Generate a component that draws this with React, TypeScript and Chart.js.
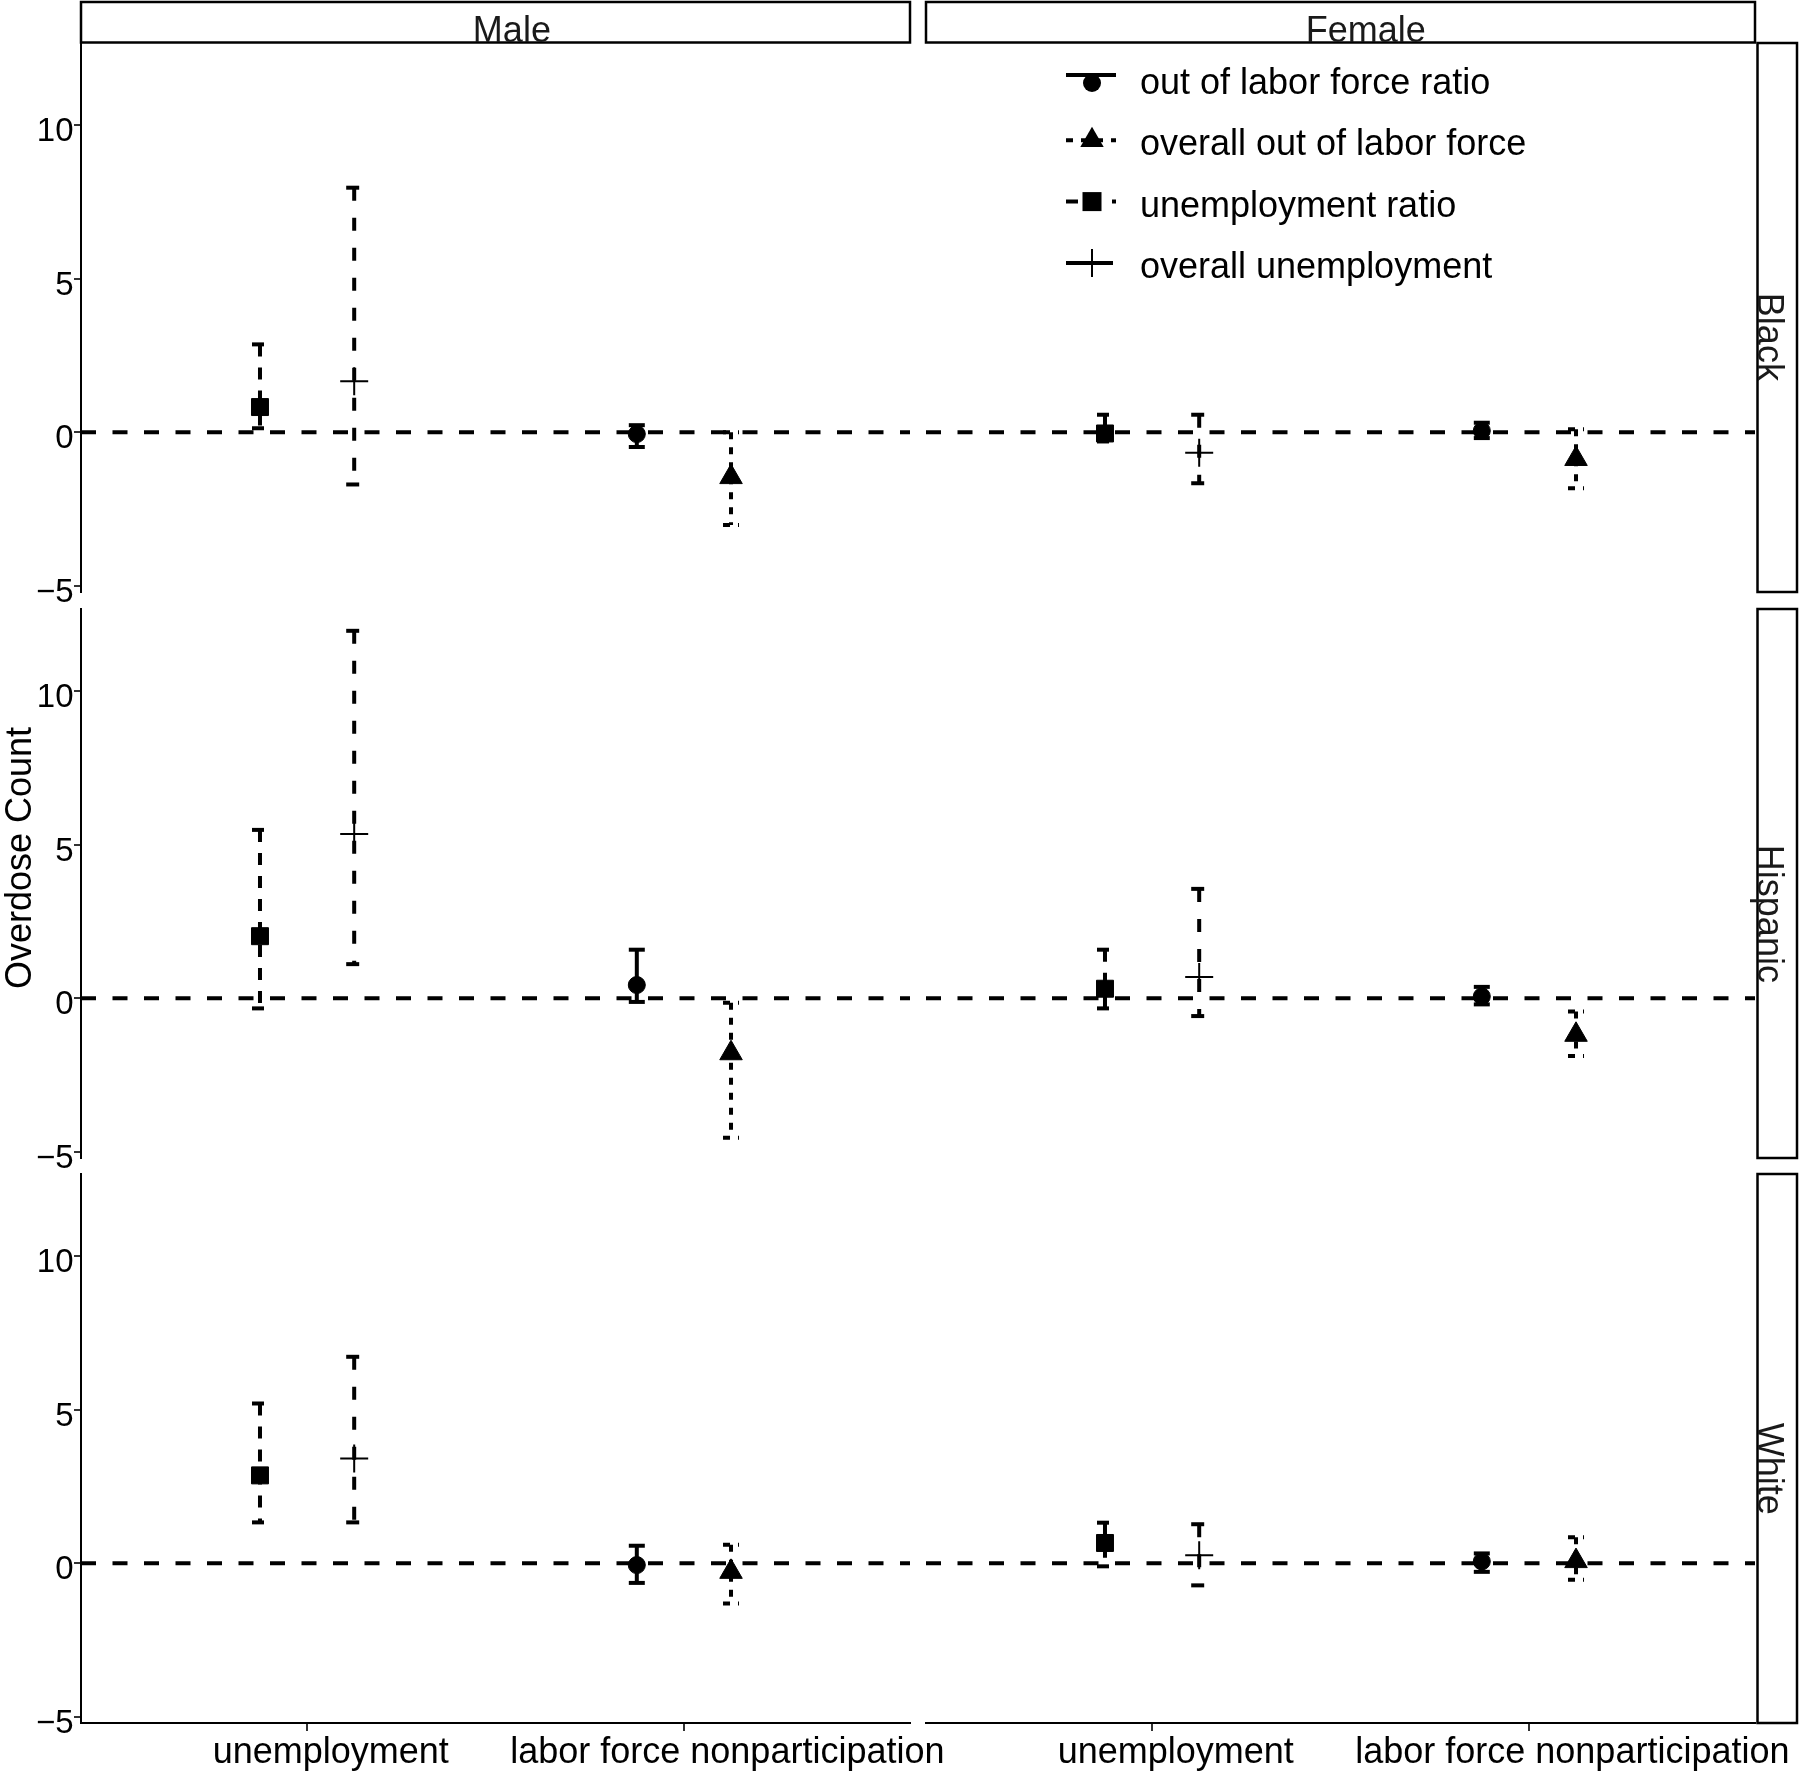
import React, { useEffect, useRef } from 'react';
import { Chart, registerables } from 'chart.js';

Chart.register(...registerables);

const PAGE_W = 1800;
const PAGE_H = 1774;
const FONT = '"Liberation Sans", Arial, Helvetica, sans-serif';

// ---------------- data ----------------
const categories = ['unemployment', 'labor force nonparticipation'];
const sexes = ['Male', 'Female'];
const races = ['Black', 'Hispanic', 'White'];
const yTicks = [-5, 0, 5, 10];
const yAxisTitle = 'Overdose Count';

const seriesNames = [
  'out of labor force ratio',
  'overall out of labor force',
  'unemployment ratio',
  'overall unemployment',
];
const seriesCategory = [
  'labor force nonparticipation',
  'labor force nonparticipation',
  'unemployment',
  'unemployment',
];

// panel order: Black/Male, Black/Female, Hispanic/Male, Hispanic/Female, White/Male, White/Female
const olfRatioEst = [-0.06, 0.05, 0.43, 0.06, -0.06, 0.06];
const olfRatioLow = [-0.48, -0.19, -0.12, -0.2, -0.64, -0.28];
const olfRatioHigh = [0.23, 0.31, 1.58, 0.37, 0.57, 0.32];

const olfOverallEst = [-1.46, -0.87, -1.79, -1.19, -0.28, 0.07];
const olfOverallLow = [-3.02, -1.82, -4.54, -1.88, -1.31, -0.54];
const olfOverallHigh = [0.0, 0.1, -0.15, -0.43, 0.6, 0.85];

const unempRatioEst = [0.82, -0.04, 2.02, 0.31, 2.86, 0.66];
const unempRatioLow = [0.13, -0.3, -0.33, -0.33, 1.33, -0.1];
const unempRatioHigh = [2.86, 0.57, 5.48, 1.58, 5.2, 1.32];

const unempOverallEst = [1.66, -0.67, 5.35, 0.69, 3.41, 0.26];
const unempOverallLow = [-1.7, -1.66, 1.11, -0.58, 1.33, -0.72];
const unempOverallHigh = [7.96, 0.57, 11.96, 3.56, 6.72, 1.27];

const estimates = [olfRatioEst, olfOverallEst, unempRatioEst, unempOverallEst];
const lows = [olfRatioLow, olfOverallLow, unempRatioLow, unempOverallLow];
const highs = [olfRatioHigh, olfOverallHigh, unempRatioHigh, unempOverallHigh];

// ---------------- styling / layout ----------------
const Y_MIN = -5.2;
const Y_MAX = 12.67;
const X_MIN = 0.4;
const X_MAX = 2.6;
const DODGE = [-0.125, 0.125, -0.125, 0.125];
const STYLES = [
  { point: 'circle', radius: 8.5, border: 1, dash: [] as number[] },
  { point: 'triangle', radius: 13, border: 1, dash: [7, 8] },
  { point: 'rect', radius: 12, border: 1, dash: [12, 11] },
  { point: 'cross', radius: 14, border: 2, dash: [13, 17] },
];
const COL_LEFT = [81, 926];
const COL_RIGHT = [910, 1755];
const ROW_TOP = [43, 609, 1174];
const ROW_BOTTOM = [592, 1158, 1723];
const Y_AXIS_W = 81;
const X_AXIS_H = PAGE_H - ROW_BOTTOM[2];
const CAP_HALF = 8;

function fmtTick(v: number) {
  return v < 0 ? '\u2212' + Math.abs(v) : String(v);
}

function drawMarker(ctx: CanvasRenderingContext2D, kind: string, x: number, y: number) {
  ctx.save();
  ctx.setLineDash([]);
  ctx.fillStyle = '#000';
  ctx.strokeStyle = '#000';
  if (kind === 'circle') {
    ctx.beginPath();
    ctx.arc(x, y, 9, 0, Math.PI * 2);
    ctx.fill();
  } else if (kind === 'triangle') {
    const r = 13.5;
    ctx.beginPath();
    ctx.moveTo(x, y - r);
    ctx.lineTo(x + r * 0.866, y + r / 2);
    ctx.lineTo(x - r * 0.866, y + r / 2);
    ctx.closePath();
    ctx.fill();
  } else if (kind === 'rect') {
    ctx.fillRect(x - 9.5, y - 9.5, 19, 19);
  } else {
    ctx.lineWidth = 2;
    ctx.beginPath();
    ctx.moveTo(x - 14, y);
    ctx.lineTo(x + 14, y);
    ctx.moveTo(x, y - 14);
    ctx.lineTo(x, y + 14);
    ctx.stroke();
  }
  ctx.restore();
}

function seg(ctx: CanvasRenderingContext2D, x1: number, y1: number, x2: number, y2: number) {
  ctx.beginPath();
  ctx.moveTo(x1, y1);
  ctx.lineTo(x2, y2);
  ctx.stroke();
}

function makeConfig(r: number, c: number): any {
  const p = r * 2 + c;
  const isLeft = c === 0;
  const isBottom = r === 2;

  const decor = {
    id: 'decor',
    beforeDatasetsDraw(chart: any) {
      const { ctx, chartArea: a } = chart;
      const xs = chart.scales.x;
      const ys = chart.scales.y;
      ctx.save();
      ctx.strokeStyle = '#000';
      ctx.lineCap = 'butt';
      // zero reference line
      ctx.lineWidth = 4;
      ctx.setLineDash([15, 16.5]);
      const y0 = ys.getPixelForValue(0);
      seg(ctx, a.left, y0, a.right, y0);
      // error bars
      chart.data.datasets.forEach((ds: any, i: number) => {
        const st = STYLES[i];
        ds.data.forEach((pt: any) => {
          const px = xs.getPixelForValue(pt.x);
          const ph = ys.getPixelForValue(pt.hi);
          const pl = ys.getPixelForValue(pt.lo);
          ctx.lineWidth = 4;
          ctx.setLineDash(st.dash);
          seg(ctx, px - CAP_HALF, ph, px + CAP_HALF, ph);
          ctx.setLineDash(st.dash);
          seg(ctx, px, ph, px, pl);
          ctx.setLineDash(st.dash);
          seg(ctx, px - CAP_HALF, pl, px + CAP_HALF, pl);
        });
      });
      ctx.restore();
    },
    afterDraw(chart: any) {
      const { ctx, chartArea: a } = chart;
      const xs = chart.scales.x;
      const ys = chart.scales.y;
      ctx.save();
      ctx.fillStyle = '#000';
      ctx.setLineDash([]);
      // y tick labels
      if (isLeft) {
        ctx.font = `33px ${FONT}`;
        ctx.textAlign = 'right';
        ctx.textBaseline = 'alphabetic';
        yTicks.forEach((v) => {
          ctx.fillText(fmtTick(v), a.left - 7.5, ys.getPixelForValue(v) + 16);
        });
      }
      // x tick labels
      if (isBottom) {
        ctx.font = `36px ${FONT}`;
        ctx.textAlign = 'left';
        ctx.textBaseline = 'alphabetic';
        categories.forEach((lab, i) => {
          const w = ctx.measureText(lab).width;
          ctx.fillText(lab, xs.getPixelForValue(i + 1) - 0.4 * w, a.bottom + 40);
        });
      }
      // top strips
      if (r === 0) {
        ctx.lineWidth = 2.5;
        ctx.strokeStyle = '#000';
        ctx.fillStyle = '#fff';
        ctx.fillRect(a.left, 2, a.right - a.left, 40.5);
        ctx.strokeRect(a.left, 2, a.right - a.left, 40.5);
        ctx.fillStyle = '#1a1a1a';
        ctx.font = `36px ${FONT}`;
        ctx.textAlign = 'left';
        ctx.textBaseline = 'alphabetic';
        const lab = sexes[c];
        const w = ctx.measureText(lab).width;
        ctx.fillText(lab, (a.left + a.right) / 2 - 0.29 * w, 41.5);
      }
      // right strips
      if (c === 1) {
        const sx = a.right + 2.5;
        ctx.lineWidth = 2.5;
        ctx.strokeStyle = '#000';
        ctx.fillStyle = '#fff';
        ctx.fillRect(sx, a.top, PAGE_W - 3 - sx, a.bottom - a.top);
        ctx.strokeRect(sx, a.top, PAGE_W - 3 - sx, a.bottom - a.top);
        ctx.fillStyle = '#1a1a1a';
        ctx.font = `36px ${FONT}`;
        const lab = races[r];
        const w = ctx.measureText(lab).width;
        ctx.save();
        ctx.translate(sx + 0.5, (a.top + a.bottom) / 2 - 0.28 * w);
        ctx.rotate(Math.PI / 2);
        ctx.textAlign = 'left';
        ctx.textBaseline = 'alphabetic';
        ctx.fillText(lab, 0, 0);
        ctx.restore();
      }
      // y axis title
      if (r === 1 && c === 0) {
        ctx.fillStyle = '#000';
        ctx.font = `36px ${FONT}`;
        ctx.save();
        ctx.translate(31, 858);
        ctx.rotate(-Math.PI / 2);
        ctx.textAlign = 'center';
        ctx.textBaseline = 'alphabetic';
        ctx.fillText(yAxisTitle, 0, 0);
        ctx.restore();
      }
      // legend
      if (r === 0 && c === 1) {
        const kx0 = 1066;
        const kx1 = 1116;
        const kc = 1092;
        seriesNames.forEach((name, i) => {
          const base = 94 + 61.3 * i;
          const ky = base - 15;
          const st = STYLES[i];
          ctx.strokeStyle = '#000';
          ctx.lineCap = 'butt';
          if (st.point === 'circle') {
            ctx.lineWidth = 4;
            ctx.setLineDash([]);
            seg(ctx, kx0, ky - 4, kx1, ky - 4);
            drawMarker(ctx, 'circle', kc, ky + 4);
          } else if (st.point === 'cross') {
            ctx.lineWidth = 4;
            ctx.setLineDash([]);
            seg(ctx, kx0, ky, kx1 - 3, ky);
            drawMarker(ctx, 'cross', kc, ky);
          } else {
            ctx.lineWidth = 4;
            ctx.setLineDash(st.dash);
            seg(ctx, kx0, ky, kx1, ky);
            drawMarker(ctx, st.point, kc, ky);
          }
          ctx.setLineDash([]);
          ctx.fillStyle = '#000';
          ctx.font = `36px ${FONT}`;
          ctx.textAlign = 'left';
          ctx.textBaseline = 'alphabetic';
          ctx.fillText(name, 1140, base);
        });
      }
      ctx.restore();
    },
  };

  return {
    type: 'scatter',
    data: {
      datasets: seriesNames.map((name, s) => ({
        label: name,
        data: [
          {
            x: categories.indexOf(seriesCategory[s]) + 1 + DODGE[s],
            y: estimates[s][p],
            lo: lows[s][p],
            hi: highs[s][p],
          },
        ],
        showLine: false,
        pointStyle: STYLES[s].point,
        pointRadius: STYLES[s].radius,
        pointHoverRadius: STYLES[s].radius,
        pointBackgroundColor: '#000',
        pointBorderColor: '#000',
        pointBorderWidth: STYLES[s].border,
        backgroundColor: '#000',
        borderColor: '#000',
      })),
    },
    options: {
      responsive: false,
      maintainAspectRatio: false,
      animation: false,
      events: [],
      layout: {
        padding: {
          left: isLeft ? COL_LEFT[0] - Y_AXIS_W : COL_LEFT[c],
          right: PAGE_W - COL_RIGHT[c],
          top: ROW_TOP[r],
          bottom: isBottom ? 0 : PAGE_H - ROW_BOTTOM[r],
        },
      },
      plugins: {
        legend: { display: false },
        tooltip: { enabled: false },
      },
      scales: {
        x: {
          type: 'linear',
          position: 'bottom',
          min: X_MIN,
          max: X_MAX,
          display: isBottom,
          afterBuildTicks: (s: any) => {
            s.ticks = categories.map((_, i) => ({ value: i + 1 }));
          },
          afterFit: (s: any) => {
            s.height = isBottom ? X_AXIS_H : 0;
            s.paddingLeft = 0;
            s.paddingRight = 0;
          },
          ticks: { display: false },
          grid: {
            display: true,
            drawOnChartArea: false,
            drawTicks: true,
            tickLength: 8,
            tickWidth: 2,
            tickColor: '#333',
            lineWidth: 2,
            color: '#333',
          },
          border: { display: true, color: '#000', width: 2 },
        },
        y: {
          type: 'linear',
          position: 'left',
          min: Y_MIN,
          max: Y_MAX,
          display: isLeft,
          afterBuildTicks: (s: any) => {
            s.ticks = yTicks.map((v) => ({ value: v }));
          },
          afterFit: (s: any) => {
            s.width = isLeft ? Y_AXIS_W : 0;
            s.paddingTop = 0;
            s.paddingBottom = 0;
          },
          ticks: { display: false },
          grid: {
            display: true,
            drawOnChartArea: false,
            drawTicks: true,
            tickLength: 7,
            tickWidth: 2,
            tickColor: '#333',
            lineWidth: 2,
            color: '#333',
          },
          border: { display: true, color: '#000', width: 2 },
        },
      },
    },
    plugins: [decor],
  };
}

const PANELS = [0, 1, 2, 3, 4, 5];

export default function App() {
  const refs = useRef<(HTMLCanvasElement | null)[]>([]);

  useEffect(() => {
    const charts: Chart[] = [];
    PANELS.forEach((p) => {
      const cv = refs.current[p];
      if (!cv) return;
      const r = Math.floor(p / 2);
      const c = p % 2;
      charts.push(new Chart(cv, makeConfig(r, c)));
    });
    return () => {
      charts.forEach((ch) => ch.destroy());
    };
  }, []);

  return (
    <div
      style={{
        position: 'absolute',
        left: 0,
        top: 0,
        width: PAGE_W,
        height: PAGE_H,
        background: '#fff',
        overflow: 'hidden',
      }}
    >
      {PANELS.map((p) => (
        <canvas
          key={p}
          ref={(el) => {
            refs.current[p] = el;
          }}
          width={PAGE_W}
          height={PAGE_H}
          style={{ position: 'absolute', left: 0, top: 0, width: PAGE_W, height: PAGE_H }}
        />
      ))}
    </div>
  );
}
